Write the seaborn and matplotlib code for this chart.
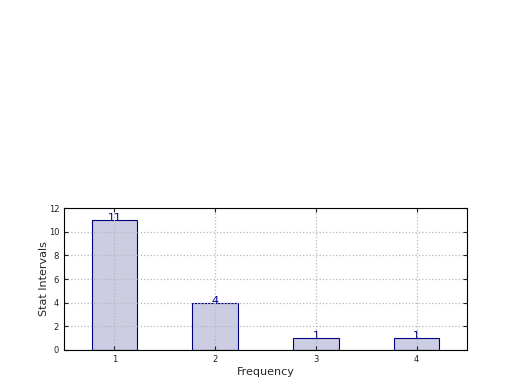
import matplotlib
matplotlib.use("Agg")
import matplotlib.pyplot as plt
import pandas as pd
import seaborn as sns

# Data
frequency = ["1", "2", "3", "4"]
counts = [11, 4, 1, 1]

df = pd.DataFrame({"Frequency": frequency, "Count": counts})

sns.set_style("ticks")
plt.rcParams["font.family"] = ["DejaVu Sans"]

fig = plt.figure(figsize=(5.2, 3.9), dpi=100)
ax = fig.add_axes([0.123, 0.1026, 0.775, 0.364])

sns.barplot(data=df, x="Frequency", y="Count", color="#ccccE3", saturation=1,
            width=0.45, edgecolor="navy", linewidth=0.8, ax=ax)

# value labels sit just over the top edge of each bar
for i, v in enumerate(counts):
    ax.text(i, v - 0.25, str(v), ha="center", va="bottom", color="navy", fontsize=8)

ax.set_xlim(-0.5, 3.5)
ax.set_ylim(0, 12)
ax.set_yticks(range(0, 13, 2))
ax.grid(True, linestyle=":", color="#b8b8b8", linewidth=0.9)
ax.set_axisbelow(False)
ax.tick_params(direction="in", labelsize=6, length=3, colors="#222222",
               top=True, right=True)
for s in ax.spines.values():
    s.set_visible(True)
    s.set_color("black")
    s.set_linewidth(0.8)
    s.set_zorder(5)
ax.set_xlabel("Frequency", fontsize=8, labelpad=2)
ax.set_ylabel("Stat Intervals", fontsize=8, labelpad=0)

fig.savefig("out.png", dpi=100)
